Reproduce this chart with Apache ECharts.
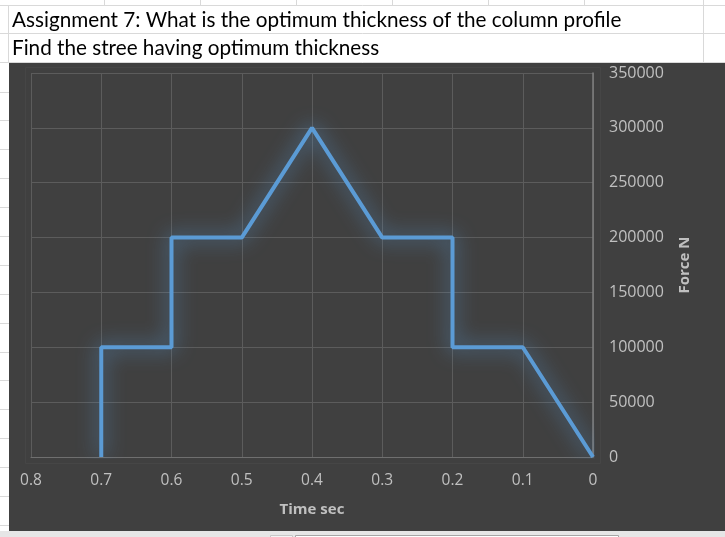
<!DOCTYPE html>
<html>
<head>
<meta charset="utf-8">
<script src="https://cdn.jsdelivr.net/npm/echarts@6/dist/echarts.min.js"></script>
<style>
html,body{margin:0;padding:0;background:#ffffff;}
#chart{width:725px;height:537px;}
</style>
</head>
<body>
<div id="chart"></div>
<script>
// Data
const timeValues  = [0.7, 0.7, 0.6, 0.6, 0.5, 0.4, 0.3, 0.2, 0.2, 0.1, 0];
const forceValues = [0, 100000, 100000, 200000, 200000, 300000, 200000, 200000, 100000, 100000, 0];
const titleLines = [
  'Assignment 7: What is the optimum thickness of the column profile',
  'Find the stree having optimum thickness'
];
const xAxisTitle = 'Time sec';
const yAxisTitle = 'Force N';

const chart = echarts.init(document.getElementById('chart'), null, {renderer: 'canvas'});

const points = timeValues.map((t, i) => [t, forceValues[i]]);

// spreadsheet decoration
const gridColor = '#d9d9d9';
const deco = [];
const rowYs = [5, 33, 62];
for (let y = 91.5; y < 531; y += 28.9) rowYs.push(Math.round(y));
rowYs.forEach(y => {
  const x2 = y <= 62 ? 725 : 9;
  deco.push({type: 'line', z: -20, shape: {x1: 0, y1: y + 0.5, x2: x2, y2: y + 0.5}, style: {stroke: gridColor, lineWidth: 1}});
});
[104, 200, 296, 392, 488, 584, 703].forEach(x => {
  deco.push({type: 'line', z: -20, shape: {x1: x + 0.5, y1: 0, x2: x + 0.5, y2: 5}, style: {stroke: gridColor, lineWidth: 1}});
});
deco.push({type: 'line', z: -20, shape: {x1: 703.5, y1: 5, x2: 703.5, y2: 62}, style: {stroke: gridColor, lineWidth: 1}});
deco.push({type: 'line', z: -20, shape: {x1: 8.5, y1: 5, x2: 8.5, y2: 62}, style: {stroke: gridColor, lineWidth: 1}});
deco.push({type: 'rect', z: -20, shape: {x: 0, y: 531, width: 725, height: 6}, style: {fill: '#e6e6e6'}});
deco.push({type: 'rect', z: -19, shape: {x: 295.5, y: 535.5, width: 323, height: 4}, style: {fill: '#ffffff', stroke: '#a6a6a6', lineWidth: 1}});
deco.push({type: 'rect', z: -19, shape: {x: 270.5, y: 535.5, width: 22, height: 4}, style: {fill: '#f4f4f4', stroke: '#c8c8c8', lineWidth: 1}});
deco.push({type: 'rect', z: -15, shape: {x: 9, y: 63, width: 716, height: 468}, style: {fill: '#404040'}});
deco.push({type: 'rect', z: -14, shape: {x: 25.5, y: 67.5, width: 575, height: 396}, style: {fill: 'none', stroke: '#464646', lineWidth: 1}});
deco.push({type: 'text', z: 10, left: 12, top: 10, style: {text: titleLines[0], fill: '#000000', font: '20.7px Lato, "Noto Sans", sans-serif'}});
deco.push({type: 'text', z: 10, left: 12, top: 38, style: {text: titleLines[1], fill: '#000000', font: '20.7px Lato, "Noto Sans", sans-serif'}});

const labelColor = '#c0c0c0';
const labelFont = '"Open Sans", "Liberation Sans", sans-serif';

chart.setOption({
  backgroundColor: '#ffffff',
  animation: false,
  graphic: {elements: deco},
  grid: {left: 31, right: 132, top: 73, bottom: 80, containLabel: false},
  xAxis: {
    type: 'value',
    inverse: true,
    min: 0, max: 0.8, interval: 0.1,
    name: xAxisTitle,
    nameLocation: 'middle',
    nameGap: 45,
    nameTextStyle: {color: labelColor, fontSize: 15, fontWeight: 'bold', fontFamily: labelFont},
    axisLine: {show: true, lineStyle: {color: '#6f6f6f', width: 1}},
    axisTick: {show: false},
    axisLabel: {color: labelColor, fontSize: 15.5, fontFamily: labelFont, margin: 16,
      formatter: v => String(Math.round(v * 10) / 10)},
    splitLine: {show: true, lineStyle: {color: '#5c5c5c', width: 1}}
  },
  yAxis: {
    type: 'value',
    position: 'right',
    min: 0, max: 350000, interval: 50000,
    name: yAxisTitle,
    nameLocation: 'middle',
    nameRotate: 90,
    nameGap: 84,
    nameTextStyle: {color: labelColor, fontSize: 15, fontWeight: 'bold', fontFamily: labelFont},
    axisLine: {show: true, lineStyle: {color: '#7f7f7f', width: 1.5}},
    axisTick: {show: false},
    axisLabel: {color: labelColor, fontSize: 16, fontFamily: labelFont, margin: 16,
      formatter: v => String(v)},
    splitLine: {show: true, lineStyle: {color: '#5c5c5c', width: 1}}
  },
  series: [{
    type: 'line',
    data: points,
    showSymbol: false,
    symbol: 'none',
    lineStyle: {color: '#5b9bd5', width: 4, shadowBlur: 20, shadowColor: 'rgba(91,155,213,0.95)'},
    z: 5
  }]
});
</script>
</body>
</html>
